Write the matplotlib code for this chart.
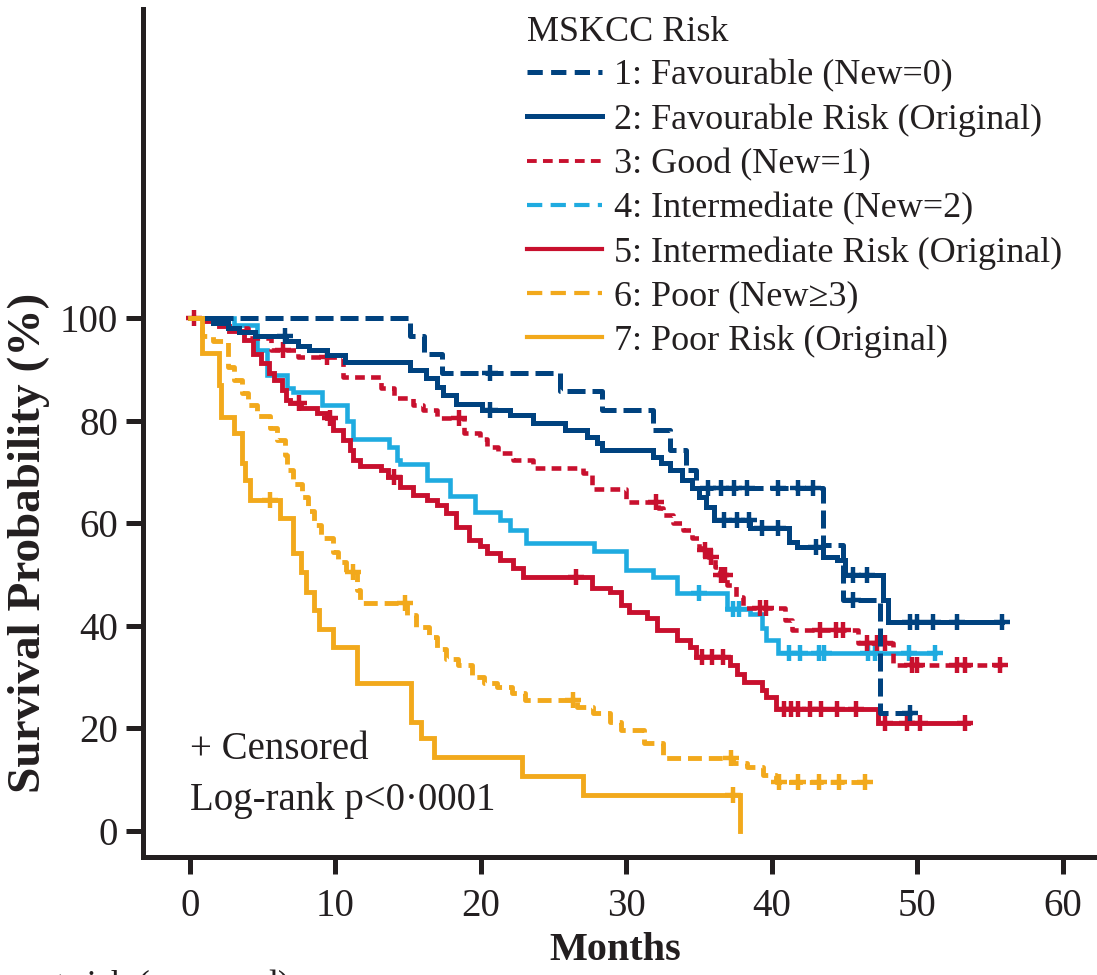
import matplotlib
matplotlib.use("Agg")
import matplotlib.pyplot as plt
from matplotlib.lines import Line2D
import numpy as np

plt.rcParams["font.family"] = ["Liberation Serif", "DejaVu Serif"]
plt.rcParams["lines.scale_dashes"] = False

# Kaplan-Meier curves: step times (months), survival (%) from each time on, censor times
fav_new_t = [0, 15.1, 16.1, 17.3, 25.4, 28.3, 31.8, 33.0, 34.1, 34.8, 43.5, 44.9, 47.4, 49.6]
fav_new_s = [100, 96.4, 93.0, 89.3, 85.8, 82.1, 78.2, 74.3, 70.4, 66.9, 55.7, 45.0, 23.0, 23.0]
fav_new_c = [20.6, 35.6, 36.5, 37.4, 38.3, 40.4, 41.8, 42.8, 45.6, 49.5]

fav_orig_t = [0, 1.6, 2.6, 3.4, 4.5, 6.6, 7.4, 8.2, 9.4, 10.65, 15.1, 16.2, 17.0, 17.4, 18.3,
              20.1, 22.0, 23.6, 25.8, 27.3, 28.0, 28.3, 31.8, 32.4, 33.0, 33.8, 34.5, 35.0,
              35.5, 36.0, 38.5, 41.2, 41.7, 43.5, 44.5, 45.0, 47.6, 48.0, 55.8]
fav_orig_s = [100, 99.1, 98.0, 97.3, 96.4, 95.4, 94.5, 93.8, 92.8, 91.4, 89.9, 88.3, 86.6, 85.0,
              83.2, 82.1, 81.1, 79.5, 78.2, 76.8, 75.6, 74.3, 72.9, 71.7, 70.4, 68.4, 66.9, 65.1,
              63.2, 60.6, 59.1, 56.4, 55.4, 53.4, 52.8, 49.9, 45.0, 40.7, 40.7]
fav_orig_c = [6.5, 20.6, 36.7, 37.6, 38.4, 39.3, 40.4, 43.0, 45.6, 46.5, 49.5, 50.0, 51.1, 52.7, 55.8]

good_new_t = [0, 2.5, 4.0, 5.6, 7.4, 10.5, 13.1, 14.0, 15.3, 16.0, 17.0, 18.8, 19.9, 20.4, 21.2,
              22.2, 23.6, 27.0, 27.6, 30.0, 32.2, 32.5, 33.2, 33.9, 34.5, 35.0, 35.3, 35.6, 36.1,
              36.4, 36.9, 37.5, 38.0, 40.9, 41.4, 45.9, 48.3, 55.8]
good_new_s = [100, 98.0, 96.0, 93.8, 92.4, 88.5, 86.4, 84.4, 83.0, 82.1, 80.5, 77.6, 76.4, 74.9,
              73.7, 72.3, 70.8, 69.8, 66.7, 64.1, 62.9, 61.6, 60.0, 58.7, 57.1, 55.2, 54.8, 53.4,
              51.5, 49.9, 48.0, 45.6, 43.5, 41.1, 39.2, 36.6, 32.4, 32.4]
good_new_c = [6.4, 9.4, 18.5, 32.0, 35.4, 35.8, 36.5, 36.8, 39.2, 39.6, 43.3, 44.4, 44.9, 46.5,
              47.2, 47.8, 49.6, 50.0, 52.7, 53.3, 55.7]

int_new_t = [0, 3.0, 4.6, 5.3, 6.7, 7.1, 9.1, 10.8, 11.2, 13.7, 14.2, 14.4, 16.3, 17.9, 19.6,
             21.3, 22.0, 23.1, 27.8, 30.0, 31.8, 33.5, 36.9, 38.5, 39.3, 39.6, 40.4, 51.2]
int_new_s = [100, 98.6, 93.8, 88.9, 86.4, 85.6, 83.0, 80.0, 76.4, 74.9, 72.3, 71.5, 68.5, 65.3,
             62.2, 60.6, 58.7, 56.1, 54.5, 50.9, 49.5, 46.4, 43.3, 42.3, 39.5, 37.2, 34.7, 34.7]
int_new_c = [35.0, 37.3, 37.7, 41.2, 41.9, 43.2, 43.6, 46.6, 47.1, 49.4, 51.2]

int_orig_t = [0, 1.1, 2.0, 2.7, 3.7, 4.35, 4.9, 5.4, 5.8, 6.3, 6.6, 6.9, 7.6, 8.7, 9.4, 9.85,
              10.5, 11.0, 11.2, 11.7, 13.1, 13.6, 14.4, 15.3, 16.3, 17.0, 17.6, 18.3, 19.2, 19.9,
              20.4, 21.3, 22.2, 22.9, 27.6, 28.9, 29.6, 30.2, 31.4, 32.1, 33.5, 34.4, 34.8, 37.1,
              37.6, 38.1, 39.3, 39.6, 40.3, 47.3, 53.5]
int_orig_s = [100, 99.4, 98.5, 97.5, 95.7, 93.0, 91.2, 89.3, 87.9, 86.0, 84.0, 83.5, 82.5, 81.5,
              80.5, 78.2, 76.2, 74.3, 72.3, 71.2, 70.4, 69.0, 67.1, 65.5, 64.5, 63.5, 62.0, 59.3,
              56.7, 55.5, 54.2, 52.8, 51.3, 49.5, 47.3, 46.6, 44.0, 42.7, 41.5, 39.2, 37.2, 35.9,
              34.0, 32.4, 30.6, 29.1, 27.5, 26.1, 23.8, 21.0, 21.0]
int_orig_c = [0.3, 7.5, 9.6, 14.0, 26.5, 35.2, 35.9, 36.6, 40.8, 41.3, 41.8, 42.6, 43.4, 44.5,
              45.8, 47.8, 49.3, 50.2, 53.3]

poor_new_t = [0, 0.8, 1.6, 2.6, 3.0, 3.6, 4.0, 4.6, 5.5, 6.0, 6.5, 6.7, 7.1, 7.7, 8.1, 8.5, 9.0,
              9.8, 10.2, 10.7, 11.5, 11.7, 14.9, 15.5, 16.4, 17.0, 17.6, 18.4, 19.4, 20.2, 21.1,
              22.1, 23.0, 26.6, 27.7, 28.9, 29.6, 31.2, 32.5, 37.3, 38.3, 39.4, 40.3, 46.6]
poor_new_s = [100, 96.5, 95.5, 90.4, 87.9, 85.4, 83.0, 80.9, 78.6, 76.2, 73.3, 70.4, 67.7, 65.1,
              62.4, 59.6, 57.1, 54.4, 52.4, 50.5, 47.0, 44.4, 42.0, 39.7, 37.8, 35.5, 33.5, 32.4,
              30.1, 28.8, 28.1, 26.9, 25.5, 24.2, 23.0, 21.2, 19.7, 17.2, 14.2, 13.3, 12.5, 10.9,
              9.5, 9.5]
poor_new_c = [11.2, 14.8, 26.3, 37.2, 40.5, 41.8, 43.2, 44.6, 46.4]

poor_orig_t = [0, 0.8, 2.0, 2.1, 3.0, 3.6, 3.8, 4.1, 6.2, 7.1, 7.6, 8.0, 8.5, 8.9, 9.8, 11.5,
               15.2, 15.9, 16.8, 22.8, 27.0, 37.8]
poor_orig_s = [100, 93.2, 87.0, 80.7, 77.6, 71.7, 68.4, 64.5, 61.0, 54.2, 50.5, 46.6, 43.1, 39.4,
               35.9, 28.8, 21.2, 18.1, 14.4, 10.7, 7.0, 0.0]
poor_orig_c = [5.5, 37.3]

group_labels = ["1: Favourable (New=0)", "2: Favourable Risk (Original)", "3: Good (New=1)",
                "4: Intermediate (New=2)", "5: Intermediate Risk (Original)", "6: Poor (New\u22653)",
                "7: Poor Risk (Original)"]

x_ticks = [0, 10, 20, 30, 40, 50, 60]
y_ticks = [0, 20, 40, 60, 80, 100]

DARK_BLUE = "#00427f"
RED = "#c8102e"
LIGHT_BLUE = "#1fabe0"
YELLOW = "#f2a91c"
INK = "#231f20"

# (times, survival, censors, colour, dashes or None, linewidth, zorder)
curves = [
    (int_new_t, int_new_s, int_new_c, LIGHT_BLUE, None, 3.3, 2),
    (int_orig_t, int_orig_s, int_orig_c, RED, None, 3.5, 3),
    (good_new_t, good_new_s, good_new_c, RED, (7, 4.5), 3.3, 4),
    (fav_orig_t, fav_orig_s, fav_orig_c, DARK_BLUE, None, 3.6, 5),
    (fav_new_t, fav_new_s, fav_new_c, DARK_BLUE, (13, 5), 3.6, 6),
    (poor_new_t, poor_new_s, poor_new_c, YELLOW, (10, 5), 3.5, 7),
    (poor_orig_t, poor_orig_s, poor_orig_c, YELLOW, None, 3.5, 8),
]

fig = plt.figure(figsize=(10.97, 9.75), dpi=100)
ax = fig.add_axes([143 / 1097, 118 / 975, 954 / 1097, 848 / 975])

for t, s, c, col, dsh, lw, z in curves:
    ln, = ax.step(t, s, where="post", color=col, lw=lw, zorder=z, solid_joinstyle="miter")
    if dsh is not None:
        ln.set_dashes(dsh)
    idx = np.searchsorted(t, c, side="right") - 1
    cy = np.asarray(s)[idx]
    ax.plot(c, cy, ls="none", marker="+", ms=12, mew=3.2, color=col, zorder=z)

ax.set_xlim(-3.23, 62.34)
ax.set_ylim(-5.07, 160.2)
ax.set_xticks(x_ticks)
ax.set_yticks(y_ticks)
for sp in ("top", "right"):
    ax.spines[sp].set_visible(False)
for sp in ("left", "bottom"):
    ax.spines[sp].set_linewidth(3.6)
    ax.spines[sp].set_color(INK)
ax.tick_params(axis="both", direction="out", length=12, width=3.6, color=INK,
               labelsize=28, labelcolor=INK)
ax.tick_params(axis="x", pad=10)
ax.tick_params(axis="y", pad=6)

ax.set_xlabel("Months", fontsize=29, fontweight="bold", color=INK)
ax.xaxis.set_label_coords(0.495, -0.088)
ax.set_ylabel("Survival Probability (%)", fontsize=34, fontweight="bold", color=INK)
ax.yaxis.set_label_coords(-0.098, 0.371)

ax.text(0, 15.8, "+ Censored", fontsize=28, va="center", ha="left", color=INK)
ax.text(0, 6.0, "Log-rank p<0\u00b70001", fontsize=28, va="center", ha="left", color=INK)

handles = [
    Line2D([], [], color=DARK_BLUE, lw=3.6, dashes=(11, 6)),
    Line2D([], [], color=DARK_BLUE, lw=3.6),
    Line2D([], [], color=RED, lw=2.8, dashes=(7, 4.5)),
    Line2D([], [], color=LIGHT_BLUE, lw=3.0, dashes=(11, 6)),
    Line2D([], [], color=RED, lw=3.0),
    Line2D([], [], color=YELLOW, lw=3.0, dashes=(11, 6)),
    Line2D([], [], color=YELLOW, lw=3.0),
]
leg = ax.legend(handles, group_labels, title="MSKCC Risk", loc="upper left",
                bbox_to_anchor=(523 / 1097, 1.0 - 12 / 975), bbox_transform=fig.transFigure,
                frameon=False, fontsize=26, title_fontsize=26, alignment="left",
                handlelength=2.1, handletextpad=0.33, labelspacing=0.3, borderpad=0.1,
                borderaxespad=0.0)
for txt in leg.get_texts():
    txt.set_color(INK)
leg.get_title().set_color(INK)

fig.text(290 / 1097, -20 / 975, "Number at risk (censored)", fontsize=26, ha="right",
         va="baseline", color=INK)

fig.savefig("out.png", dpi=100)
